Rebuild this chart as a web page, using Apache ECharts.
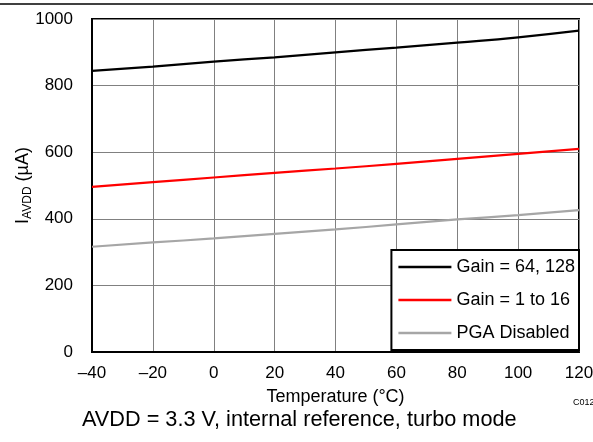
<!DOCTYPE html>
<html>
<head>
<meta charset="utf-8">
<script src="https://cdn.jsdelivr.net/npm/echarts@6/dist/echarts.min.js"></script>
<style>
html, body { margin: 0; padding: 0; background: #fff; }
#main { width: 593px; height: 442px; }
</style>
</head>
<body>
<div id="main"></div>
<script>
// 数据
var temps = [-40, -20, 0, 20, 40, 60, 80, 100, 120];
var gainHigh = [844, 857, 872, 885, 900, 914, 929, 945, 965];
var gainLow = [496, 510, 524, 538, 551, 565, 580, 595, 610];
var pgaOff = [316, 329, 341, 355, 368, 383, 398, 411, 426];
var seriesNames = ['Gain = 64, 128', 'Gain = 1 to 16', 'PGA Disabled'];

var chart = echarts.init(document.getElementById('main'));
var font = 'Liberation Sans, Arial, sans-serif';

function pairs(vals) {
    return temps.map((t, i) => [t, vals[i]]);
}

var option = {
    animation: false,
    backgroundColor: '#fff',
    textStyle: { fontFamily: font },
    grid: {
        left: 92, right: 14, top: 19, bottom: 90,
        outerBoundsMode: 'none', containLabel: false,
        show: true, borderColor: '#000', borderWidth: 2, backgroundColor: 'transparent'
    },
    xAxis: {
        type: 'value',
        min: -40, max: 120, interval: 20,
        name: 'Temperature (°C)',
        nameLocation: 'middle',
        nameGap: 36,
        nameMoveOverlap: false,
        nameTextStyle: { color: '#000', fontSize: 18, fontFamily: font },
        axisLine: { show: true, onZero: false, lineStyle: { color: '#000', width: 2 } },
        axisTick: { show: false },
        axisLabel: {
            color: '#000', fontSize: 17, fontFamily: font, margin: 13,
            formatter: function (v) { return v < 0 ? '\u2013' + Math.abs(v) : '' + v; }
        },
        splitLine: { show: true, lineStyle: { color: '#808080', width: 1 } }
    },
    yAxis: {
        type: 'value',
        min: 0, max: 1000, interval: 200,
        name: '{i|I}{s|AVDD}{i| (µA)}',
        nameLocation: 'middle',
        nameGap: 58,
        nameRotate: 90,
        nameMoveOverlap: false,
        nameTextStyle: {
            rich: {
                i: { fontSize: 18, color: '#000', fontFamily: font },
                s: { fontSize: 12, color: '#000', fontFamily: font, padding: [9, 0, 0, 0] }
            }
        },
        axisLine: { show: true, onZero: false, lineStyle: { color: '#000', width: 2 } },
        axisTick: { show: false },
        axisLabel: {
            color: '#000', fontSize: 17, fontFamily: font, margin: 19,
            formatter: function (v) { return '' + v; }
        },
        splitLine: { show: true, lineStyle: { color: '#808080', width: 1 } }
    },
    legend: {
        right: 14, bottom: 92,
        orient: 'vertical',
        itemWidth: 53, itemHeight: 2.5, itemGap: 13,
        backgroundColor: '#fff',
        borderColor: '#000', borderWidth: 2,
        padding: [7, 4, 7, 7],
        icon: 'rect',
        textStyle: { color: '#000', fontSize: 18, lineHeight: 20, fontFamily: font },
        data: seriesNames
    },
    graphic: [
        { type: 'line', shape: { x1: 0, y1: 4, x2: 593, y2: 4 }, style: { stroke: '#000', lineWidth: 1.5 } },
        { type: 'text', left: 82, top: 409, style: { text: 'AVDD = 3.3 V, internal reference, turbo mode', font: '21.7px ' + font, fill: '#000' } },
        { type: 'text', left: 573, top: 398, style: { text: 'C012', font: '9px ' + font, fill: '#000' } }
    ],
    series: [
        { name: seriesNames[0], type: 'line', showSymbol: false, data: pairs(gainHigh), smooth: true, lineStyle: { color: '#000', width: 2.2 }, itemStyle: { color: '#000' }, z: 3 },
        { name: seriesNames[1], type: 'line', showSymbol: false, data: pairs(gainLow), smooth: true, lineStyle: { color: '#ff0000', width: 2.2 }, itemStyle: { color: '#ff0000' }, z: 3 },
        { name: seriesNames[2], type: 'line', showSymbol: false, data: pairs(pgaOff), smooth: true, lineStyle: { color: '#a6a6a6', width: 2.2 }, itemStyle: { color: '#a6a6a6' }, z: 3 }
    ]
};

chart.setOption(option);
</script>
</body>
</html>
